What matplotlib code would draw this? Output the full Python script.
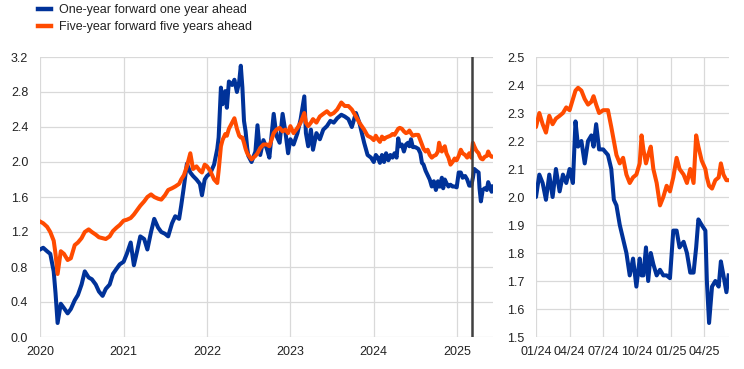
import matplotlib
matplotlib.use("Agg")
import matplotlib.pyplot as plt
import matplotlib.dates as mdates
from matplotlib.lines import Line2D
from matplotlib.ticker import FormatStrFormatter, MultipleLocator
import pandas as pd

plt.rcParams['font.family'] = ['Liberation Sans', 'DejaVu Sans']

BLUE = '#003299'
ORANGE = '#ff4b00'
GRID = '#d9d9d9'
TXT = '#222222'

labels = ['One-year forward one year ahead', 'Five-year forward five years ahead']

dates = [
    # 2020
    "2020-01-01", "2020-01-15", "2020-02-01", "2020-02-15", "2020-03-01", "2020-03-09", "2020-03-18",
    "2020-04-01", "2020-04-15", "2020-05-01", "2020-05-15", "2020-06-01", "2020-06-15", "2020-07-01",
    "2020-07-15", "2020-08-01", "2020-08-15", "2020-09-01", "2020-09-15", "2020-10-01", "2020-10-15",
    "2020-11-01", "2020-11-15", "2020-12-01", "2020-12-15",
    # 2021
    "2021-01-01", "2021-01-15", "2021-02-01", "2021-02-15", "2021-03-01", "2021-03-15", "2021-04-01",
    "2021-04-15", "2021-05-01", "2021-05-15", "2021-06-01", "2021-06-15", "2021-07-01", "2021-07-15",
    "2021-08-01", "2021-08-15", "2021-09-01", "2021-09-10", "2021-09-22", "2021-10-05", "2021-10-20",
    "2021-11-01", "2021-11-16", "2021-12-01", "2021-12-10", "2021-12-22",
    # 2022
    "2022-01-01", "2022-01-15", "2022-02-01", "2022-02-15", "2022-02-21", "2022-03-03", "2022-03-10",
    "2022-03-22", "2022-03-29", "2022-04-07", "2022-04-21", "2022-05-01", "2022-05-12", "2022-05-22",
    "2022-05-29", "2022-06-05", "2022-06-12", "2022-06-19", "2022-06-26",
    "2022-07-01", "2022-07-15", "2022-08-01", "2022-08-10", "2022-08-22", "2022-09-05", "2022-09-20",
    "2022-10-01", "2022-10-20", "2022-11-01", "2022-11-15", "2022-11-28", "2022-12-10", "2022-12-22",
    # 2023
    "2023-01-01", "2023-01-15", "2023-02-01", "2023-02-15", "2023-03-03", "2023-03-10", "2023-03-20",
    "2023-04-01", "2023-04-10", "2023-04-25", "2023-05-10", "2023-05-25", "2023-06-10", "2023-06-25",
    "2023-07-10", "2023-07-25", "2023-08-12", "2023-08-27", "2023-09-12", "2023-09-27", "2023-10-15",
    "2023-10-30", "2023-11-20", "2023-12-05", "2023-12-20",
    # 2024
    "2024-01-01", "2024-01-10", "2024-01-19", "2024-01-28", "2024-02-06", "2024-02-15", "2024-02-24",
    "2024-03-05", "2024-03-14", "2024-03-23", "2024-04-01", "2024-04-10", "2024-04-17", "2024-04-24",
    "2024-05-03", "2024-05-12", "2024-05-21", "2024-05-30", "2024-06-05", "2024-06-12", "2024-06-20",
    "2024-07-01", "2024-07-14", "2024-07-23", "2024-07-30", "2024-08-06", "2024-08-15", "2024-08-24",
    "2024-09-02", "2024-09-11", "2024-09-20", "2024-09-29", "2024-10-08", "2024-10-13", "2024-10-18",
    "2024-10-25", "2024-10-31", "2024-11-07", "2024-11-14", "2024-11-23", "2024-12-02", "2024-12-11",
    "2024-12-20", "2024-12-29",
    # 2025
    "2025-01-07", "2025-01-16", "2025-01-24", "2025-02-04", "2025-02-13", "2025-02-22", "2025-03-03",
    "2025-03-10", "2025-03-16", "2025-03-25", "2025-04-04", "2025-04-08", "2025-04-14", "2025-04-22",
    "2025-05-01", "2025-05-10", "2025-05-16", "2025-05-23", "2025-05-31", "2025-06-06",
]

one_year = [
    # 2020
    1.00, 1.02, 0.98, 0.95, 0.75, 0.50, 0.16, 0.38, 0.33, 0.27, 0.32, 0.42, 0.48, 0.60,
    0.75, 0.68, 0.66, 0.60, 0.52, 0.47, 0.55, 0.60, 0.72, 0.78, 0.83,
    # 2021
    0.86, 0.95, 1.08, 0.82, 0.98, 1.15, 1.12, 1.00, 1.20, 1.35, 1.25, 1.20, 1.18, 1.15,
    1.30, 1.38, 1.35, 1.50, 1.72, 1.98, 1.88, 1.84, 1.80, 1.75, 1.62, 1.80,
    # 2022
    1.84, 1.87, 1.97, 2.15, 2.28, 2.85, 2.66, 2.81, 2.62, 2.92, 2.88, 2.94, 2.80, 2.92,
    3.10, 2.85, 2.47, 2.35, 2.16,
    2.07, 2.00, 2.12, 2.42, 2.08, 2.25, 2.15, 2.05, 2.55, 2.30, 2.22, 2.55, 2.35, 2.10,
    # 2023
    2.26, 2.20, 2.33, 2.49, 2.75, 2.33, 2.18, 2.37, 2.14, 2.33, 2.26, 2.37, 2.41, 2.47,
    2.45, 2.50, 2.54, 2.52, 2.49, 2.40, 2.56, 2.45, 2.22, 2.08, 2.05,
    # 2024
    2.00, 2.08, 2.05, 1.99, 2.08, 2.00, 2.10, 2.02, 2.08, 2.05, 2.10, 2.05, 2.27, 2.18,
    2.20, 2.12, 2.20, 2.22, 2.18, 2.26, 2.17, 2.17, 2.15, 2.10, 1.99, 1.97, 1.90, 1.85,
    1.80, 1.72, 1.78, 1.68, 1.78, 1.72, 1.72, 1.82, 1.70, 1.80, 1.76, 1.72, 1.74, 1.72,
    1.72, 1.71,
    # 2025
    1.88, 1.88, 1.82, 1.84, 1.80, 1.73, 1.73, 1.82, 1.92, 1.90, 1.88, 1.70, 1.55, 1.68,
    1.70, 1.68, 1.77, 1.72, 1.66, 1.72,
]

five_year = [
    # 2020
    1.32, 1.30, 1.26, 1.20, 1.10, 0.95, 0.72, 0.98, 0.95, 0.88, 0.90, 1.05, 1.08, 1.13,
    1.20, 1.23, 1.20, 1.17, 1.14, 1.13, 1.12, 1.15, 1.21, 1.25, 1.28,
    # 2021
    1.33, 1.34, 1.36, 1.40, 1.45, 1.50, 1.55, 1.60, 1.63, 1.60, 1.58, 1.57, 1.62, 1.68,
    1.70, 1.72, 1.75, 1.80, 1.85, 1.95, 2.10, 1.92, 1.95, 1.90, 1.88, 1.97,
    # 2022
    1.95, 1.90, 1.80, 1.76, 1.90, 2.18, 2.25, 2.32, 2.30, 2.38, 2.45, 2.50, 2.38, 2.30,
    2.28, 2.28, 2.22, 2.15, 2.10,
    2.08, 2.03, 2.07, 2.10, 2.16, 2.20, 2.20, 2.18, 2.33, 2.37, 2.39, 2.35, 2.37, 2.33,
    # 2023
    2.41, 2.33, 2.39, 2.45, 2.56, 2.45, 2.41, 2.45, 2.49, 2.45, 2.52, 2.55, 2.58, 2.54,
    2.56, 2.60, 2.68, 2.64, 2.64, 2.60, 2.52, 2.45, 2.37, 2.30, 2.28,
    # 2024
    2.25, 2.30, 2.26, 2.23, 2.29, 2.26, 2.28, 2.29, 2.30, 2.32, 2.31, 2.35, 2.38, 2.39,
    2.38, 2.35, 2.33, 2.34, 2.36, 2.33, 2.30, 2.31, 2.31, 2.25, 2.20, 2.15, 2.12, 2.14,
    2.08, 2.05, 2.07, 2.08, 2.12, 2.22, 2.17, 2.12, 2.15, 2.18, 2.10, 2.05, 1.97, 2.00,
    2.04, 2.02,
    # 2025
    2.07, 2.14, 2.10, 2.08, 2.05, 2.10, 2.05, 2.22, 2.18, 2.13, 2.10, 2.07, 2.04, 2.03,
    2.06, 2.07, 2.12, 2.08, 2.06, 2.06,
]

assert len(dates) == len(one_year) == len(five_year)

marker_date = "2025-03-05"
left_years = ['2020', '2021', '2022', '2023', '2024', '2025']
right_ticks = ["2024-01-01", "2024-04-01", "2024-07-01", "2024-10-01", "2025-01-01", "2025-04-01"]

x = pd.to_datetime(dates)

fig = plt.figure(figsize=(7.44, 3.69), dpi=100)
ax1 = fig.add_axes([40/744, 32/369, 453/744, 280/369])
ax2 = fig.add_axes([536/744, 32/369, 193/744, 280/369])

for ax in (ax1, ax2):
    ax.plot(x, one_year, color=BLUE, lw=2.9, solid_joinstyle='round')
    ax.plot(x, five_year, color=ORANGE, lw=2.9, solid_joinstyle='round')
    ax.grid(True, color=GRID, lw=0.9)
    ax.set_axisbelow(True)
    for s in ax.spines.values():
        s.set_visible(False)
    ax.tick_params(length=0, labelsize=9, colors=TXT)
    ax.tick_params(axis='y', pad=8.5)
    ax.tick_params(axis='x', pad=6.5)
    ax.yaxis.set_major_formatter(FormatStrFormatter('%.1f'))

# left panel
ax1.axvline(pd.Timestamp(marker_date), color='#404040', lw=1.8)
ax1.set_xlim(pd.Timestamp("2020-01-01"), pd.Timestamp("2025-06-06"))
ax1.set_ylim(0, 3.2)
ax1.yaxis.set_major_locator(MultipleLocator(0.4))
ax1.set_xticks(pd.to_datetime([y + "-01-01" for y in left_years]))
ax1.set_xticklabels(left_years)

# right panel
ax2.set_xlim(pd.Timestamp("2024-01-01"), pd.Timestamp("2025-06-07"))
ax2.set_ylim(1.5, 2.5)
ax2.yaxis.set_major_locator(MultipleLocator(0.1))
ax2.set_xticks(pd.to_datetime(right_ticks))
ax2.xaxis.set_major_formatter(mdates.DateFormatter('%m/%y'))

handles = [Line2D([], [], color=BLUE, lw=3.2), Line2D([], [], color=ORANGE, lw=3.2)]
fig.legend(handles, labels, loc='upper left', bbox_to_anchor=(38/744, 1 - 4/369),
           frameon=False, fontsize=9, handlelength=1.05, handletextpad=0.65,
           labelspacing=0.4, borderpad=0, borderaxespad=0, labelcolor=TXT)

fig.savefig('out.png', dpi=100)
